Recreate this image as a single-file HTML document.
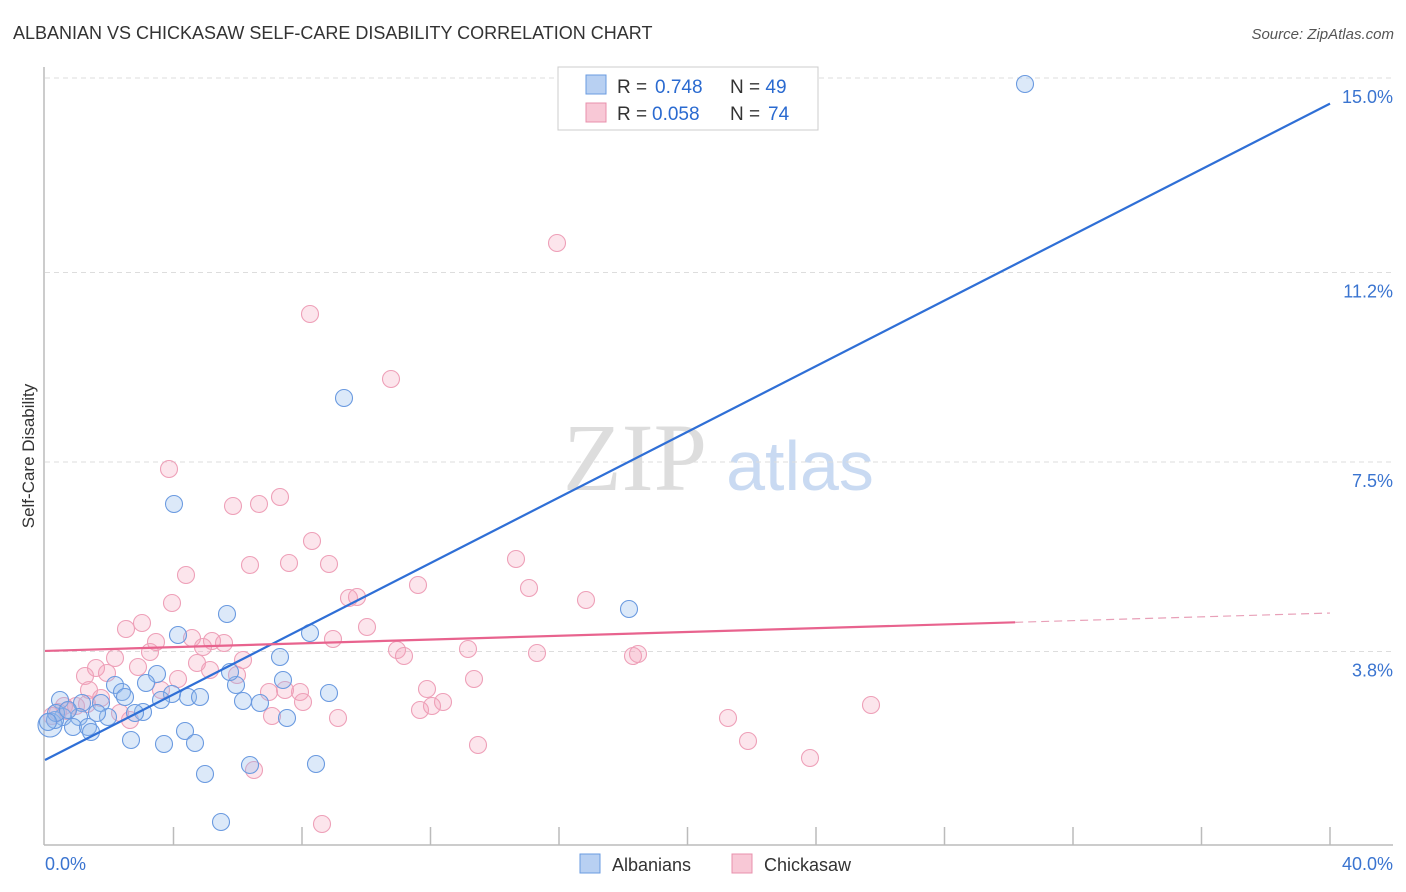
<!DOCTYPE html>
<html><head><meta charset="utf-8"><style>
body{margin:0;background:#fff;font-family:"Liberation Sans",sans-serif;}
svg{display:block}
</style></head><body>
<svg width="1406" height="892" id="chart" xmlns="http://www.w3.org/2000/svg">
<text x="13" y="39" font-size="18" fill="#333">ALBANIAN VS CHICKASAW SELF-CARE DISABILITY CORRELATION CHART</text>
<text x="1394" y="39" font-size="15" fill="#555" font-style="italic" text-anchor="end">Source: ZipAtlas.com</text>
<text x="635" y="490" font-size="96" fill="#ddd" font-family="Liberation Serif,serif" text-anchor="middle">ZIP</text>
<text x="800" y="490" font-size="70" fill="#c9daf2" text-anchor="middle">atlas</text>
<g id="grid"></g>
<line x1="44" y1="67" x2="44" y2="845" stroke="#bbb" stroke-width="1.5"/>
<line x1="44" y1="845" x2="1393" y2="845" stroke="#bbb" stroke-width="1.5"/>
<text transform="translate(34,456) rotate(-90)" font-size="17" fill="#333" text-anchor="middle">Self-Care Disability</text>
<text x="45" y="870" font-size="18" fill="#3a74d0">0.0%</text>
<text x="1393" y="870" font-size="18" fill="#3a74d0" text-anchor="end">40.0%</text>
<g id="ticks"></g>
<g id="pts"></g>
<g id="lines"></g>
<g>
<rect x="558" y="67" width="260" height="63" fill="#fff" stroke="#ccc"/>
<rect x="586" y="75" width="20" height="19" fill="#b8d0f2" stroke="#6a9be0"/>
<rect x="586" y="103" width="20" height="19" fill="#f8c8d6" stroke="#e890ac"/>
<text x="617" y="93" font-size="19" fill="#333">R = <tspan x="655" fill="#2a6ad0">0.748</tspan><tspan x="730">N = </tspan><tspan fill="#2a6ad0">49</tspan></text>
<text x="617" y="120" font-size="19" fill="#333">R = <tspan x="652" fill="#2a6ad0">0.058</tspan><tspan x="730">N = </tspan><tspan x="768" fill="#2a6ad0">74</tspan></text>
</g>
<g>
<rect x="580" y="854" width="20" height="19" fill="#b8d0f2" stroke="#6a9be0"/>
<text x="612" y="871" font-size="18" fill="#333">Albanians</text>
<rect x="732" y="854" width="20" height="19" fill="#f8c8d6" stroke="#e890ac"/>
<text x="764" y="871" font-size="18" fill="#333">Chickasaw</text>
</g>
</svg>
<script>
const yTicks=[3.8,7.5,11.2,15.0];
const yTickLabels=["3.8%","7.5%","11.2%","15.0%"];
const blueX=[1025,344,174,227,629,178,310,280,157,146,115,122,125,60,82,101,172,188,200,236,161,243,260,283,329,143,135,108,97,79,63,50,55,73,88,91,185,131,164,195,205,250,316,221,287,56,48,230,68].map(p=>(p-45)/1285*40);
const blueY=[84,398,504,614,609,635,633,657,674,683,685,692,697,700,703,703,694,697,697,685,700,701,703,680,693,712,713,717,713,717,717,725,720,727,727,732,731,740,744,743,774,765,764,822,718,713,722,672,710].map(p=>(846-p)/51.2);
const pinkX=[557,310,391,169,280,259,233,312,516,186,250,289,329,418,529,357,349,586,172,142,126,156,192,212,224,333,367,397,404,468,537,633,638,115,150,203,243,96,138,197,107,85,210,237,178,474,89,161,269,300,285,427,101,303,443,420,432,64,76,87,120,130,272,338,478,748,810,871,728,254,322,52,58,67].map(p=>(p-45)/1285*40);
const pinkY=[243,314,379,469,497,504,506,541,559,575,565,563,564,585,588,597,598,600,603,623,629,642,638,641,643,639,627,650,656,649,653,656,654,658,652,647,660,668,667,663,673,676,670,675,679,679,690,690,692,692,690,689,698,702,702,710,706,706,706,704,713,720,716,718,745,741,758,705,718,770,824,716,712,711].map(p=>(846-p)/51.2);
const blueLine=[1.68,14.5];
const pinkLine=[3.81,4.55];
const X=v=>45+v/40*1285, Y=v=>846-v*51.2;
const NS="http://www.w3.org/2000/svg";
function mk(t,a,p){const e=document.createElementNS(NS,t);for(const k in a)e.setAttribute(k,a[k]);document.getElementById(p).appendChild(e);return e;}
yTicks.forEach((t,i)=>{
 const l=mk('line',{x1:45,x2:1393,y1:Y(t),y2:Y(t),stroke:'#ddd','stroke-dasharray':'5,4'},'grid');
 
 
 const tx=mk('text',{x:1393,y:Y(t)+25,'font-size':18,fill:'#3a74d0','text-anchor':'end'},'grid');
 tx.textContent=yTickLabels[i];
 
 
});
for(let k=1;k<=10;k++){
 const l=mk('line',{x1:X(k*4),x2:X(k*4),y1:827,y2:845,stroke:'#bbb','stroke-width':1.5},'ticks');
 
 
}
pinkX.forEach((x,i)=>{
 const c=mk('circle',{cx:X(x),cy:Y(pinkY[i]),r:8.5,fill:'rgba(244,160,186,0.28)',stroke:'#eea0b8','stroke-width':1.1},'pts');
 
 
});
blueX.forEach((x,i)=>{
 const c=mk('circle',{cx:X(x),cy:Y(blueY[i]),r:i==31?12:8.5,fill:'rgba(150,188,238,0.33)',stroke:'#6a9ae0','stroke-width':1.1},'pts');
 
 
});
const bl=mk('line',{x1:X(0),y1:Y(blueLine[0]),x2:X(40),y2:Y(blueLine[1]),stroke:'#2f6fd6','stroke-width':2.2},'lines');


const px=30.2, py=pinkLine[0]+(pinkLine[1]-pinkLine[0])*px/40;
const pl=mk('line',{x1:X(0),y1:Y(pinkLine[0]),x2:X(px),y2:Y(py),stroke:'#e8638e','stroke-width':2.2},'lines');


const pd=mk('line',{x1:X(px),y1:Y(py),x2:X(40),y2:Y(pinkLine[1]),stroke:'#e8a0b8','stroke-width':1.2,'stroke-dasharray':'8,5'},'lines');


</script>
</body></html>
